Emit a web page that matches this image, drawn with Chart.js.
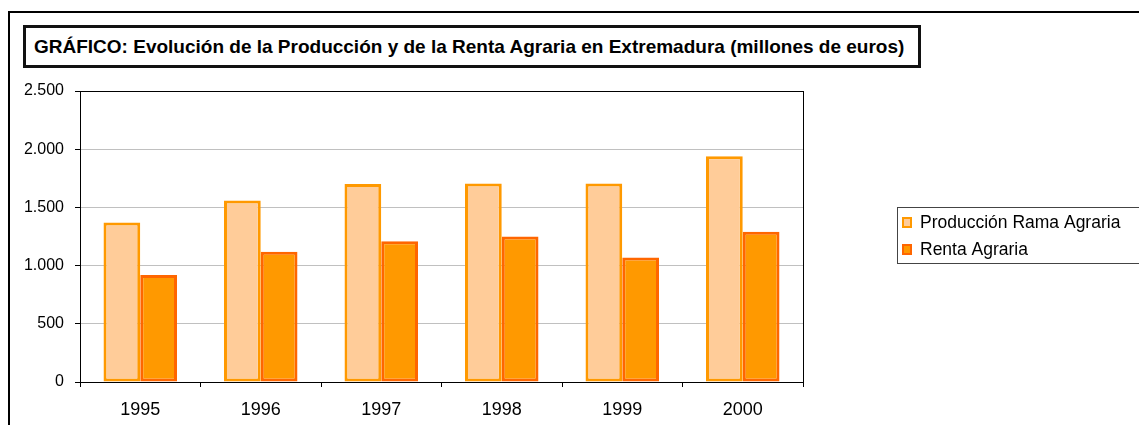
<!DOCTYPE html>
<html>
<head>
<meta charset="utf-8">
<script src="https://cdn.jsdelivr.net/npm/chart.js@4"></script>
<style>
  html, body { margin: 0; padding: 0; background: #fff; overflow: hidden; }
  #frame {
    position: absolute; left: 8px; top: 11px; width: 1200px; height: 500px;
    border-top: 2px solid #000; border-left: 2px solid #000;
  }
  #titulo {
    position: absolute; left: 23px; top: 25px; width: 884px; height: 37px;
    border: 3px solid #111; background: #fff;
    font: bold 19px "Liberation Sans", Arial, sans-serif; line-height: 37px;
    padding-left: 8px; white-space: nowrap; color: #000;
  }
  #wrap { position: absolute; left: 0; top: 0; width: 1139px; height: 425px; }
</style>
</head>
<body>
<div id="frame"></div>
<div id="wrap"><canvas id="grafico"></canvas></div>
<div id="titulo">GRÁFICO: Evolución de la Producción y de la Renta Agraria en Extremadura (millones de euros)</div>
<script>
// datos (millones de euros)
var anios = ['1995', '1996', '1997', '1998', '1999', '2000'];
var produccion = [1370, 1560, 1700, 1705, 1705, 1940];
var renta = [920, 1120, 1210, 1250, 1070, 1290];
var ticksY = [0, 500, 1000, 1500, 2000, 2500];
var etiquetasY = ['0', '500', '1.000', '1.500', '2.000', '2.500'];

Chart.defaults.font.family = '"Liberation Sans", Arial, sans-serif';
Chart.defaults.color = '#000';

// borde del área de trazado
var bordeArea = {
    id: 'bordeArea',
    afterDraw: function (chart) {
        var a = chart.chartArea, c = chart.ctx;
        c.save();
        c.strokeStyle = '#000';
        c.lineWidth = 1;
        c.strokeRect(Math.round(a.left) + 0.5, Math.round(a.top) + 0.5,
            Math.round(a.right - a.left), Math.round(a.bottom - a.top));
        c.restore();
    }
};

// leyenda con recuadro, al estilo Excel
var leyenda = {
    id: 'leyenda',
    afterDraw: function (chart) {
        var c = chart.ctx;
        c.save();
        c.strokeStyle = '#444';
        c.lineWidth = 1;
        c.strokeRect(897.5, 207.5, 260, 56);
        c.font = '17.5px "Liberation Sans", Arial, sans-serif';
        c.textBaseline = 'middle';
        chart.data.datasets.forEach(function (ds, i) {
            var y = 217 + i * 27;
            c.fillStyle = ds.backgroundColor;
            c.fillRect(902, y, 10, 11);
            c.strokeStyle = ds.borderColor;
            c.lineWidth = 2;
            c.strokeRect(903, y + 1, 8, 9);
            c.fillStyle = '#000';
            c.fillText(ds.label, 920, y + 6);
        });
        c.restore();
    }
};

var ctx = document.getElementById('grafico').getContext('2d');
var grafico = new Chart(ctx, {
    type: 'bar',
    data: {
        labels: anios,
        datasets: [{
            label: 'Producción Rama Agraria',
            data: produccion,
            backgroundColor: '#FFCC99',
            borderColor: '#FF9900',
            borderWidth: 3,
            borderSkipped: false
        }, {
            label: 'Renta Agraria',
            data: renta,
            backgroundColor: '#FF9900',
            borderColor: '#FF6600',
            borderWidth: 3,
            borderSkipped: false
        }]
    },
    options: {
        responsive: true,
        maintainAspectRatio: false,
        animation: false,
        layout: { padding: { left: 0, top: 91, right: 336, bottom: 0 } },
        datasets: { bar: { barPercentage: 1, categoryPercentage: 0.61 } },
        plugins: {
            legend: { display: false },
            tooltip: { enabled: false }
        },
        scales: {
            x: {
                grid: { offset: true, drawOnChartArea: false, tickLength: 5, tickColor: '#000' },
                border: { color: '#000' },
                ticks: { font: { size: 18 }, padding: 12 },
                afterFit: function (s) { s.height = 43; }
            },
            y: {
                min: 0,
                max: 2500,
                afterBuildTicks: function (s) {
                    s.ticks = ticksY.map(function (v) { return { value: v }; });
                },
                grid: { color: '#c0c0c0', tickLength: 5, tickColor: '#000' },
                border: { color: '#000' },
                ticks: {
                    font: { size: 16 },
                    padding: 11,
                    callback: function (v) { return etiquetasY[ticksY.indexOf(v)]; }
                },
                afterFit: function (s) { s.width = 80; }
            }
        }
    },
    plugins: [bordeArea, leyenda]
});
</script>
</body>
</html>
